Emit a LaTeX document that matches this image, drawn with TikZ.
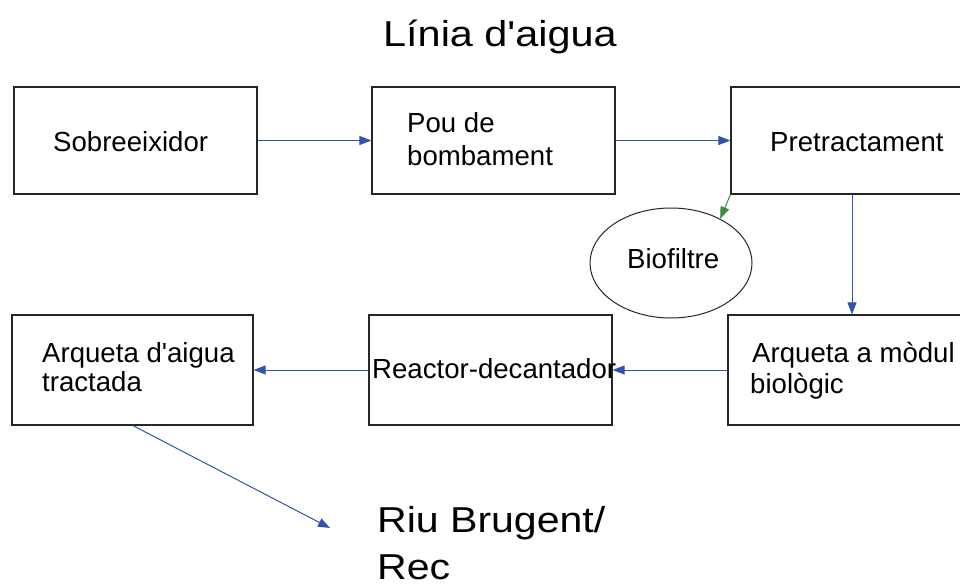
\documentclass[tikz,border=0pt]{standalone}
\usepackage{fontspec}
\usepackage{graphicx}
\setmainfont{Liberation Sans}
\usetikzlibrary{arrows.meta,shapes.geometric}
\definecolor{arrblue}{RGB}{47,84,172}
\definecolor{arrgreen}{RGB}{60,140,60}
\tikzset{
  box/.style={draw=black!85, line width=1.2pt, rectangle, inner sep=0pt},
  lbl/.style={anchor=base west, inner sep=0pt, font=\fontsize{27.6}{27.6}\selectfont},
  big/.style={anchor=base west, inner sep=0pt, font=\fontsize{36}{36}\selectfont},
  arr/.style={draw=arrblue, line width=1pt, -{Triangle[length=12pt,width=9pt]}},
  garr/.style={draw=arrgreen, line width=1pt, -{Triangle[length=12pt,width=9pt]}}
}
\begin{document}
\begin{tikzpicture}[x=1pt,y=-1pt]
\useasboundingbox (0,0) rectangle (960,588);
\clip (0,0) rectangle (960,588);
% boxes
\node[box, minimum width=243pt, minimum height=107pt] (sob) at (135.5,140.5) {};
\node[box, minimum width=243pt, minimum height=107pt] (pou) at (493.5,140.5) {};
\node[box, minimum width=260pt, minimum height=107pt] (pre) at (861,140.5) {};
\node[box, minimum width=260pt, minimum height=110pt] (mod) at (858,370) {};
\node[box, minimum width=243pt, minimum height=110pt] (rea) at (490.5,370) {};
\node[box, minimum width=241pt, minimum height=110pt] (tra) at (132.5,370) {};
\node[draw=black!85, line width=1pt, ellipse, minimum width=162pt, minimum height=110pt, inner sep=0pt] (bio) at (671,263) {};
% labels
\node[lbl] (tsob) at (53,152) {Sobreeixidor};
\node[lbl] (tpou1) at (407,133) {Pou de};
\node[lbl] (tpou2) at (407,165) {bombament};
\node[lbl] (tpre) at (770,152) {Pretractament};
\node[lbl] (tbio) at (627,268) {Biofiltre};
\node[lbl] (tmod1) at (752,362) {Arqueta a mòdul};
\node[lbl] (tmod2) at (750,393) {biològic};
\node[lbl] (trea) at (372,378) {Reactor-decantador};
\node[lbl] (ttra1) at (42,362) {Arqueta d\textquotesingle aigua};
\node[lbl] (ttra2) at (42,391) {tractada};
\node[big] (title) at (383,47) {\scalebox{1.15}[1]{Línia d\textquotesingle aigua}};
\node[big] (riu1) at (377,532) {\scalebox{1.14}[1]{Riu Brugent/}};
\node[big] (riu2) at (377,579) {\scalebox{1.14}[1]{Rec}};
% connectors
\coordinate (vx) at (852,0);
\coordinate (ox) at (133,0);
\coordinate (riu) at (330,528);
\draw[arr] (sob.east) -- (pou.west);
\draw[arr] (pou.east) -- (pre.west);
\draw[arr] (pre.south -| vx) -- (mod.north -| vx);
\draw[garr] (pre.south west) -- (bio.42);
\draw[arr] (mod.west) -- (rea.east);
\draw[arr] (rea.west) -- (tra.east);
\draw[arr] (tra.south -| ox) -- (riu);
\end{tikzpicture}
\end{document}
